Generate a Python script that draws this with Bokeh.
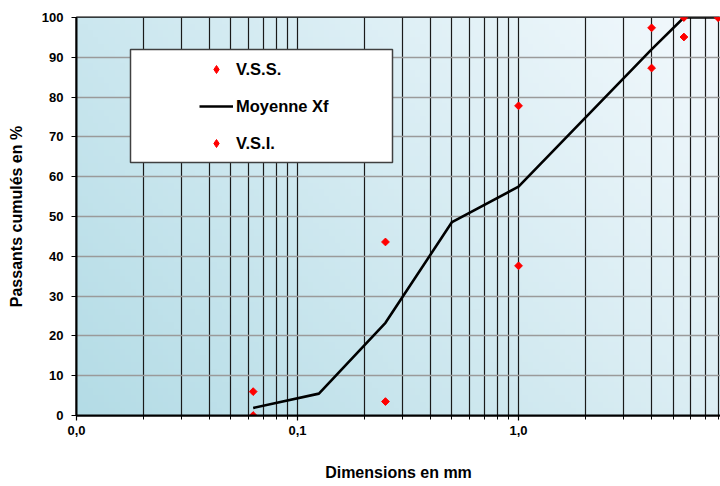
import numpy as np
from bokeh.plotting import figure
from bokeh.models import Range1d, FixedTicker, BoxAnnotation, Legend, LegendItem
from bokeh.embed import file_html
from bokeh.resources import INLINE

# ---- data ----
sieve_mm = [0.063, 0.125, 0.25, 0.5, 1.0, 4.0, 5.6, 8.0]
moyenne_xf = [1.9, 5.5, 23.3, 48.6, 57.5, 92.0, 100.0, 100.0]
fuseau_mm = [0.063, 0.25, 1.0, 4.0, 5.6, 8.0]
vss = [6.0, 43.6, 77.8, 97.4, 100.0, 100.0]
vsi = [0.0, 3.5, 37.6, 87.3, 95.1, 100.0]
x_major = [0.01, 0.1, 1.0]
x_major_labels = ["0,0", "0,1", "1,0"]
y_ticks = list(range(0, 101, 10))

X_START, X_END = 0.01, 8.2
FONT = "Liberation Sans"

x_minor = [round(m * d, 4) for d in (0.01, 0.1, 1.0) for m in range(2, 10) if m * d <= X_END]

p = figure(width=720, height=486, x_axis_type="log",
           x_range=Range1d(X_START, X_END), y_range=Range1d(0, 100),
           output_backend="svg", toolbar_location=None,
           min_border_left=76, min_border_right=0, min_border_top=17, min_border_bottom=71)

# background gradient
ny, nx = 60, 120
u = np.linspace(0, 1, nx)[None, :, None]
v = np.linspace(0, 1, ny)[:, None, None]
BL = np.array([180, 220, 230], dtype=float)
BR = np.array([220, 238, 244], dtype=float)
TL = np.array([203, 231, 239], dtype=float)
rgb = np.clip(BL + (BR - BL) * u + (TL - BL) * v, 0, 255)
img = np.empty((ny, nx), dtype=np.uint32)
view = img.view(dtype=np.uint8).reshape((ny, nx, 4))
view[..., 0] = rgb[..., 0]
view[..., 1] = rgb[..., 1]
view[..., 2] = rgb[..., 2]
view[..., 3] = 255
p.background_fill_color = "#d2eaf1"
p.image_rgba(image=[img], x=X_START, y=0, dw=X_END - X_START, dh=100, level="image")

# grids
xt = FixedTicker(ticks=x_major, minor_ticks=x_minor)
p.xaxis.ticker = xt
p.xgrid.ticker = xt
p.xgrid.grid_line_color = "#1a1a1a"
p.xgrid.grid_line_width = 1.2
p.xgrid.minor_grid_line_color = "#1a1a1a"
p.xgrid.minor_grid_line_width = 1.2
yt = FixedTicker(ticks=y_ticks)
p.yaxis.ticker = yt
p.ygrid.ticker = yt
p.ygrid.grid_line_color = "#9a9a9a"
p.ygrid.grid_line_width = 1.6

p.xaxis.major_label_overrides = dict(zip(x_major, x_major_labels))

for ax in (p.xaxis[0], p.yaxis[0]):
    ax.axis_line_color = "black"
    ax.axis_line_width = 2
    ax.major_tick_line_color = "black"
    ax.major_tick_line_width = 1.2
    ax.major_tick_out = 5
    ax.major_tick_in = 0
    ax.major_label_text_font = FONT
    ax.major_label_text_font_style = "bold"
    ax.major_label_text_font_size = "13px"
    ax.major_label_text_color = "black"
    ax.axis_label_text_font = FONT
    ax.axis_label_text_font_style = "bold"
    ax.axis_label_text_font_size = "16px"
    ax.axis_label_text_color = "black"

p.xaxis.minor_tick_line_color = "black"
p.xaxis.minor_tick_out = 4
p.xaxis.minor_tick_in = 0
p.yaxis.minor_tick_line_color = None
p.xaxis.major_label_standoff = 5
p.yaxis.major_label_standoff = 8
p.xaxis.axis_label = "Dimensions en mm"
p.xaxis.axis_label_standoff = 26
p.yaxis.axis_label = "Passants cumulés en %"
p.yaxis.axis_label_standoff = 14

p.outline_line_color = "black"
p.outline_line_width = 2

# data marks (diamond-shaped points drawn as rotated squares;
# small 'diamond' renderers underneath serve as legend glyphs)
r_line = p.line(sieve_mm, moyenne_xf, line_color="black", line_width=2.6)
leg_vss = p.scatter(fuseau_mm, vss, marker="diamond", size=6,
                    fill_color="red", line_color="red")
leg_vsi = p.scatter(fuseau_mm, vsi, marker="diamond", size=6,
                    fill_color="red", line_color="red")
p.scatter(fuseau_mm, vss, marker="square", angle=np.pi / 4, size=5.5,
          fill_color="red", line_color="red")
p.scatter(fuseau_mm, vsi, marker="square", angle=np.pi / 4, size=5.5,
          fill_color="red", line_color="red")

# legend box
box = BoxAnnotation(left=130, right=392, top=49, bottom=162,
                    left_units="canvas", right_units="canvas",
                    top_units="canvas", bottom_units="canvas",
                    fill_color="white", fill_alpha=1.0,
                    line_color="#404040", line_width=1.5, line_alpha=1.0)
p.add_layout(box)

legend = Legend(items=[LegendItem(label="V.S.S.", renderers=[leg_vss]),
                       LegendItem(label="Moyenne Xf", renderers=[r_line]),
                       LegendItem(label="V.S.I.", renderers=[leg_vsi])],
                location=(123, 262), padding=0, margin=0, spacing=17,
                glyph_width=34, glyph_height=20, label_height=20, label_standoff=3,
                label_text_font=FONT, label_text_font_style="bold",
                label_text_font_size="16.5px", label_text_color="black",
                background_fill_alpha=0, border_line_alpha=0)
p.add_layout(legend)

open("out.html", "w").write(file_html(p, INLINE))
